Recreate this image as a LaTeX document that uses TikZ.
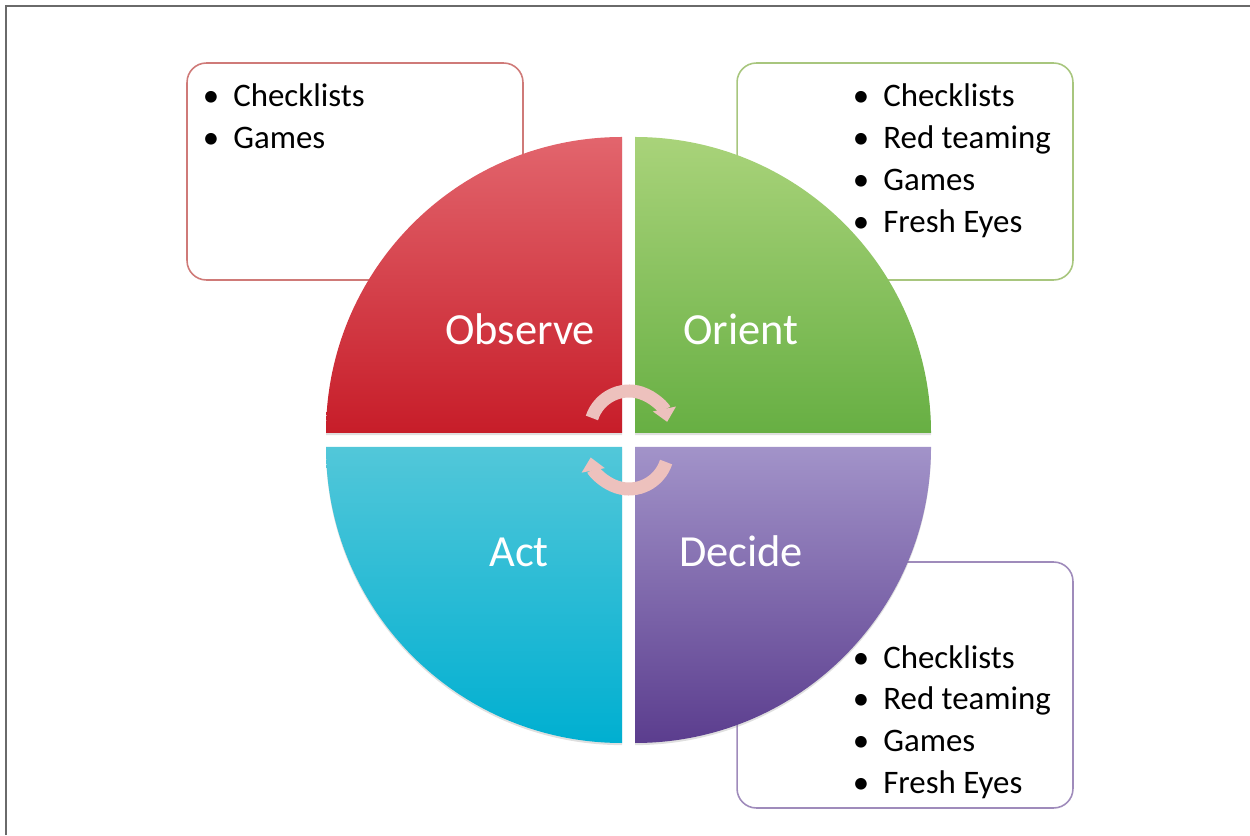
\documentclass[tikz,border=0pt]{standalone}
\usepackage{fontspec}
\setmainfont{Carlito}
\usepackage{tikz}
\usetikzlibrary{
    arrows.meta,
    shadows
}

\definecolor{obstop}{HTML}{E2656D}
\definecolor{obsbot}{HTML}{C71D29}
\definecolor{oritop}{HTML}{A9D37A}
\definecolor{oribot}{HTML}{67AF43}
\definecolor{acttop}{HTML}{52C7D9}
\definecolor{actbot}{HTML}{00AFD1}
\definecolor{dectop}{HTML}{A293C9}
\definecolor{decbot}{HTML}{5B3D8E}
\definecolor{cycpink}{HTML}{EDC1BD}
\definecolor{obsline}{HTML}{CF7A78}
\definecolor{oriline}{HTML}{A8C67E}
\definecolor{decline}{HTML}{9F8BBB}
\definecolor{framegray}{HTML}{6A6A6A}

\begin{document}
\begin{tikzpicture}[
    x=0.02cm,
    y=0.02cm,
    quarter/.style={
        drop shadow={
            shadow xshift=0pt,
            shadow yshift=-1.2pt,
            opacity=0.25
        }
    },
    infobox/.style={
        draw,
        fill=white,
        line width=0.9pt,
        rounded corners=11pt,
        minimum width=6.72cm,
        inner sep=0pt
    },
    phase/.style={
        text=white,
        anchor=base,
        inner sep=0pt,
        font=\fontsize{25.3pt}{30pt}\selectfont
    },
    listitem/.style={
        anchor=base west,
        inner sep=0pt,
        font=\fontsize{18.7pt}{23pt}\selectfont
    },
    cycarrow/.style={
        draw=cycpink,
        line width=7.4pt,
        -{Triangle[width=13pt, length=7.5pt]}
    }
]

    \useasboundingbox (0,0) rectangle (1250,835);

    % Frame
    \draw[framegray, line width=1.1pt]
        (6,0) -- (6,829) -- (1250,829);

    % Boxes behind the quarters
    \node[
        infobox,
        draw=obsline,
        minimum height=4.34cm
    ] (obsbox) at (355,663.5) {};

    \node[
        infobox,
        draw=oriline,
        minimum height=4.34cm
    ] (oribox) at (905,663.5) {};

    \node[
        infobox,
        draw=decline,
        minimum height=4.92cm
    ] (decbox) at (905,150) {};

    % Observe
    \path[
        quarter,
        top color=obstop,
        bottom color=obsbot
    ]
        (622,402) -- (326,402)
        arc[start angle=180, end angle=90, radius=296]
        -- cycle;

    % Orient
    \path[
        quarter,
        top color=oritop,
        bottom color=oribot
    ]
        (635,402) -- (635,698)
        arc[start angle=90, end angle=0, radius=296]
        -- cycle;

    % Act
    \path[
        quarter,
        top color=acttop,
        bottom color=actbot
    ]
        (622,388) -- (622,92)
        arc[start angle=270, end angle=180, radius=296]
        -- cycle;

    % Decide
    \path[
        quarter,
        top color=dectop,
        bottom color=decbot
    ]
        (635,388) -- (931,388)
        arc[start angle=0, end angle=-90, radius=296]
        -- cycle;

    \node[phase] (obslabel) at (520,490) {Observe};
    \node[phase] (orilabel) at (741,490) {Orient};
    \node[phase] (actlabel) at (519,268) {Act};
    \node[phase] (declabel) at (741,268) {Decide};

    % Cycle arrows
    \coordinate (cyctop) at (629,405);
    \coordinate (cycbot) at (629,385);

    \draw[cycarrow]
        ([shift={(162:39)}]cyctop)
        arc[start angle=162, end angle=12, radius=39];

    \draw[cycarrow]
        ([shift={(-18:39)}]cycbot)
        arc[start angle=-18, end angle=-169, radius=39];

    % Lists
    \foreach \entry [count=\i] in {Checklists, Games}
        \node[listitem] (obsitem\i) at (233,{728-41.7*(\i-1)})
            {\llap{\textbullet\hspace{8pt}}\entry};

    \foreach \entry [count=\i] in {Checklists, Red teaming, Games, Fresh Eyes}
        \node[listitem] (oriitem\i) at (883,{728-41.7*(\i-1)})
            {\llap{\textbullet\hspace{8pt}}\entry};

    \foreach \entry [count=\i] in {Checklists, Red teaming, Games, Fresh Eyes}
        \node[listitem] (decitem\i) at (883,{167-41.7*(\i-1)})
            {\llap{\textbullet\hspace{8pt}}\entry};

\end{tikzpicture}
\end{document}
